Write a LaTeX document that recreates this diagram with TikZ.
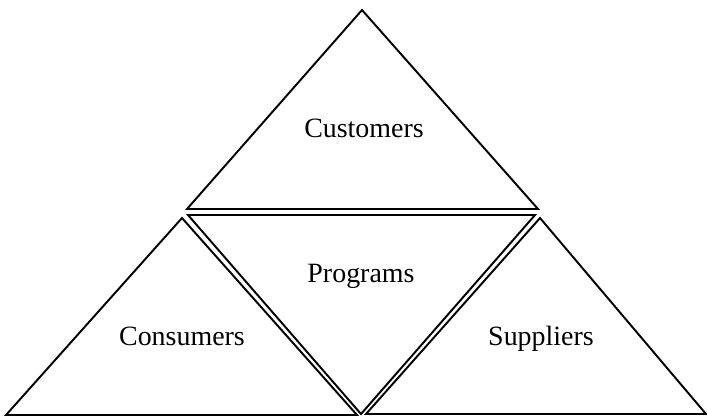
\documentclass[tikz,border=0pt]{standalone}
\usepackage{fontspec}
\setmainfont{Liberation Serif}
\usepackage{tikz}
\usetikzlibrary{calc}
\tikzset{
  tri/.style={draw=black, line width=1.1pt, line join=miter},
  lab/.style={text=black, font=\fontsize{15.9}{19}\selectfont, inner sep=0pt}
}

\begin{document}
\begin{tikzpicture}[x=0.02cm, y=-0.02cm]
  \useasboundingbox (0,0) rectangle (707,417);

  % top
  \coordinate (TA) at (362,10);
  \coordinate (TL) at (187,209);
  \coordinate (TR) at (538,209);
  % middle, upside down
  \coordinate (ML) at (188,215);
  \coordinate (MR) at (535,215);
  \coordinate (MB) at (361,414);
  % left
  \coordinate (LA) at (182,218);
  \coordinate (LL) at (6,415);
  \coordinate (LR) at (357,415);
  % right
  \coordinate (RA) at (540,218);
  \coordinate (RL) at (366,414);
  \coordinate (RR) at (706,414);

  \draw[tri] (TA)--(TL)--(TR)--cycle;
  \draw[tri] (ML)--(MR)--(MB)--cycle;
  \draw[tri] (LA)--(LL)--(LR)--cycle;
  \draw[tri] (RA)--(RL)--(RR)--cycle;

  \node[lab, anchor=base] (cust) at (364,137) {Customers};
  \node[lab, anchor=base] (prog) at (361,282) {Programs};
  \node[lab, anchor=base] (cons) at (182,345) {Consumers};
  \node[lab, anchor=base] (supp) at (541,345) {Suppliers};
\end{tikzpicture}
\end{document}
